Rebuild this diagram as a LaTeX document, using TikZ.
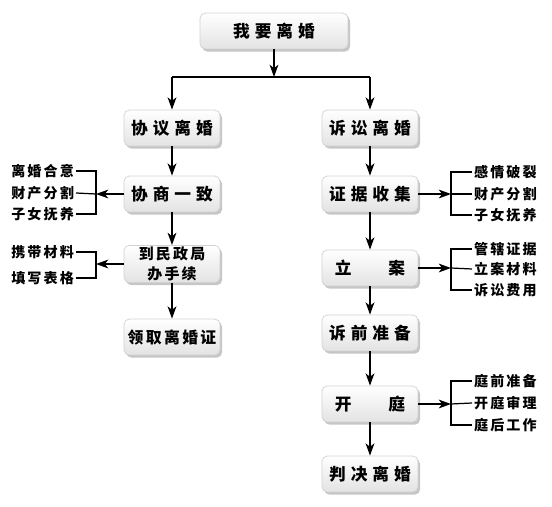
\documentclass[tikz,border=0pt]{standalone}
\usepackage{fontspec}
\newfontfamily\cjk[LetterSpace=30]{Noto Sans CJK SC}
\newfontfamily\cjksmall[LetterSpace=15]{Noto Sans CJK SC}
\usetikzlibrary{shadows,arrows.meta}
\tikzset{
  caja/.style={rounded corners=3pt, draw=gray!35, top color=white, bottom color=gray!22,
    minimum width=1.92cm, minimum height=0.72cm, align=center, inner sep=1pt,
    drop shadow={shadow xshift=1.2pt, shadow yshift=-1.5pt, opacity=0.45},
    font=\cjk\bfseries\fontsize{9.5}{11}\selectfont},
  item/.style={inner sep=1pt, font=\cjksmall\bfseries\fontsize{8}{9}\selectfont},
  flecha/.style={-{Stealth[length=7pt,width=5pt,inset=2pt]}, line width=0.9pt},
  linea/.style={line width=0.7pt},
}
\begin{document}
\begin{tikzpicture}[x=0.02cm, y=-0.02cm]
  \useasboundingbox (0,0) rectangle (552,507);
  % Cajas
  \node[caja, minimum width=2.96cm] (top) at (274,31) {我要离婚};
  \node[caja] (xy) at (172,128) {协议离婚};
  \node[caja] (ss) at (370,128) {诉讼离婚};
  \node[caja] (xs) at (172,194) {协商一致};
  \node[caja, font=\cjksmall\bfseries\fontsize{8.5}{11}\selectfont] (mz) at (172,264) {到民政局\\办手续};
  \node[caja, font=\cjksmall\bfseries\fontsize{9}{11}\selectfont] (lq) at (172,337) {领取离婚证};
  \node[caja] (zj) at (370,194) {证据收集};
  \node[caja] (la) at (370,268) {立\hspace{2.2em}案};
  \node[caja] (sq) at (370,333) {诉前准备};
  \node[caja] (kt) at (370,404) {开\hspace{2.2em}庭};
  \node[caja] (pj) at (370,474) {判决离婚};
  % Flechas principales
  \coordinate (split) at (274,77);
  \draw[flecha] (top) -- (split);
  \draw[linea] (xy |- split) -- (ss |- split);
  \draw[flecha] (xy |- split) -- (xy);
  \draw[flecha] (ss |- split) -- (ss);
  \draw[flecha] (xy) -- (xs);
  \draw[flecha] (xs) -- (mz);
  \draw[flecha] (mz) -- (lq);
  \draw[flecha] (ss) -- (zj);
  \draw[flecha] (zj) -- (la);
  \draw[flecha] (la) -- (sq);
  \draw[flecha] (sq) -- (kt);
  \draw[flecha] (kt) -- (pj);
  % Detalles izquierda
  \foreach \t/\y [count=\i] in {离婚合意/171, 财产分割/193, 子女抚养/214}
    \node[item, anchor=east] (a\i) at (76,\y) {\t};
  \foreach \t/\y [count=\i] in {携带材料/252, 填写表格/278}
    \node[item, anchor=east] (b\i) at (76,\y) {\t};
  \coordinate (ba) at (96,194);
  \coordinate (bb) at (96,264);
  \draw[linea] (a1.east) -| (ba) |- (a3.east);
  \draw[linea] (a2.east) -- (ba);
  \draw[linea] (b1.east) -| (bb) |- (b2.east);
  \draw[flecha] (xs) -- (ba);
  \draw[flecha] (mz) -- (bb);
  % Detalles derecha
  \foreach \t/\y [count=\i] in {感情破裂/172, 财产分割/194, 子女抚养/215}
    \node[item, anchor=west] (c\i) at (472,\y) {\t};
  \foreach \t/\y [count=\i] in {管辖证据/249, 立案材料/269, 诉讼费用/290}
    \node[item, anchor=west] (d\i) at (472,\y) {\t};
  \foreach \t/\y [count=\i] in {庭前准备/381, 开庭审理/403, 庭后工作/425}
    \node[item, anchor=west] (e\i) at (472,\y) {\t};
  \coordinate (bc) at (451,194);
  \coordinate (bd) at (451,268);
  \coordinate (be) at (451,404);
  \draw[linea] (c1.west) -| (bc) |- (c3.west);
  \draw[linea] (c2.west) -- (bc);
  \draw[linea] (d1.west) -| (bd) |- (d3.west);
  \draw[linea] (d2.west) -- (bd);
  \draw[linea] (e1.west) -| (be) |- (e3.west);
  \draw[linea] (e2.west) -- (be);
  \draw[flecha] (zj) -- (bc);
  \draw[flecha] (la) -- (bd);
  \draw[flecha] (kt) -- (be);
\end{tikzpicture}
\end{document}
